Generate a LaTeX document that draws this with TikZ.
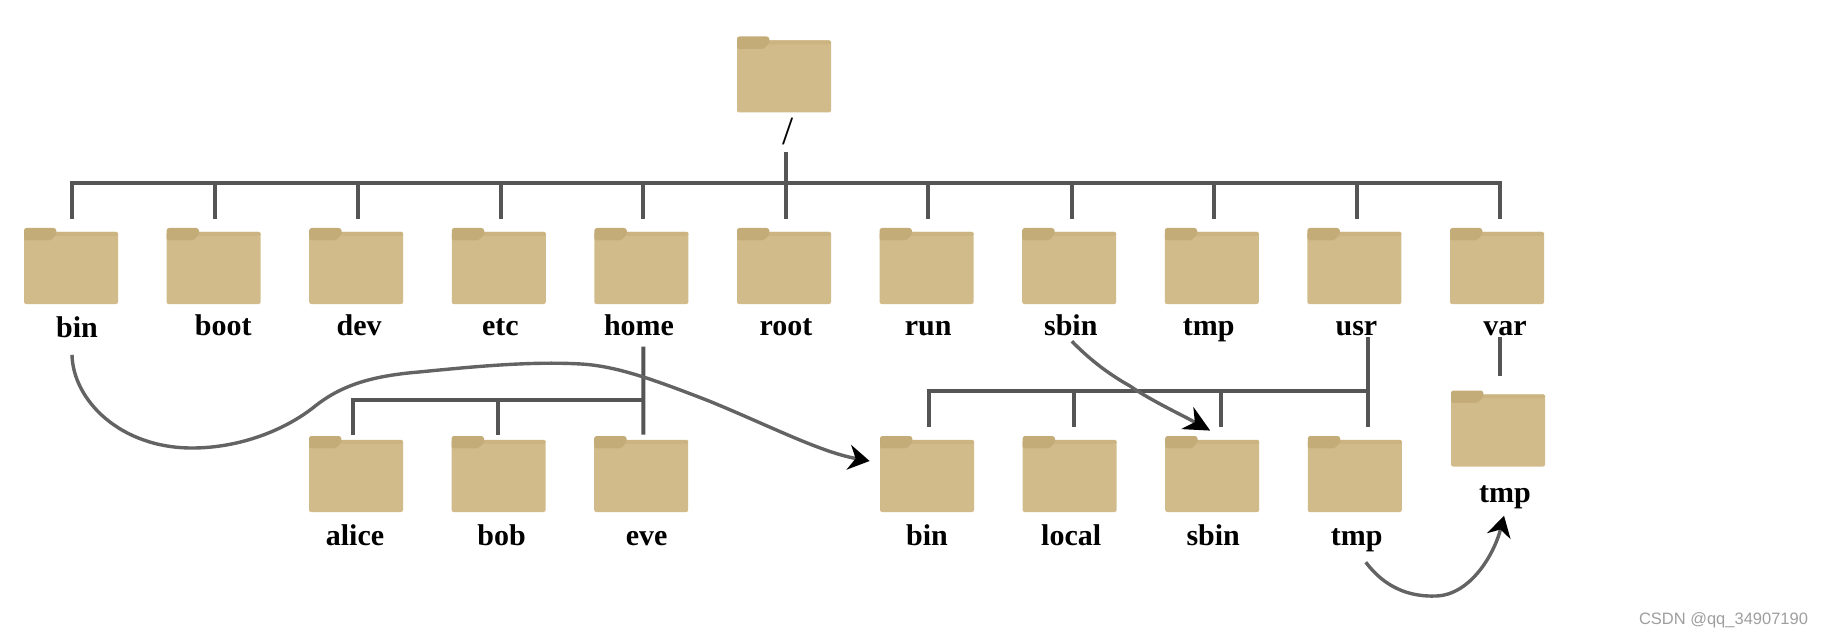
\documentclass[tikz,border=0pt]{standalone}
\usepackage{fontspec}
\setmainfont{Liberation Serif}
\setsansfont{Liberation Sans}
\usetikzlibrary{positioning, arrows.meta}
\definecolor{folderbody}{HTML}{D2BB8A}
\definecolor{folderstrip}{HTML}{CBB481}
\definecolor{foldertab}{HTML}{C4AC79}
\definecolor{linegray}{HTML}{555555}

\begin{document}
\begin{tikzpicture}[x=0.5pt, y=-0.5pt]
        \tikzset{
            node distance=71.3pt, % gap between two folders of a row
            folder/.style={rectangle, inner sep=0pt, minimum width=47pt, minimum height=38pt,
                path picture={
                    % body, strip along its top, then the darker tab
                    \fill[folderbody, rounded corners=1pt] (path picture bounding box.south west) -- ++(0pt,36pt) -- ++(47pt,0pt) -- ++(0pt,-36pt) -- cycle;
                    \fill[folderstrip, rounded corners=0.8pt] (path picture bounding box.north west) ++(15pt,-1.9pt) -- ++(32pt,0pt) -- ++(0pt,-2pt) -- ++(-32pt,0pt) -- cycle;
                    \fill[foldertab, rounded corners=1.2pt] (path picture bounding box.north west) ++(0pt,-6.2pt) -- ++(0pt,6.2pt) -- ++(16pt,0pt) -- ++(0.4pt,-3pt) -- ++(-3pt,-3.2pt) -- cycle;
                }},
            dir_name/.style={font=\fontsize{15pt}{15pt}\selectfont\bfseries, inner sep=0pt, text height=10.5pt, text depth=3.3pt},
            branch/.style={draw=linegray, line width=2pt},
            link/.style={draw=linegray!92, line width=1.7pt},
            }
        \useasboundingbox (0,0) rectangle (1824,636);

        % folders
        \node[folder] (root_dir) at (784,74.5) {};
        \node[folder] (bin_dir) at (71,266) {};
        \node[folder, right of=bin_dir] (boot_dir) {};
        \node[folder, right of=boot_dir] (dev_dir) {};
        \node[folder, right of=dev_dir] (etc_dir) {};
        \node[folder, right of=etc_dir] (home_dir) {};
        \node[folder, right of=home_dir] (rootd_dir) {};
        \node[folder, right of=rootd_dir] (run_dir) {};
        \node[folder, right of=run_dir] (sbin_dir) {};
        \node[folder, right of=sbin_dir] (tmp_dir) {};
        \node[folder, right of=tmp_dir] (usr_dir) {};
        \node[folder, right of=usr_dir] (var_dir) {};
        \node[folder] (alice_dir) at (356,474) {};
        \node[folder, right of=alice_dir] (bob_dir) {};
        \node[folder, right of=bob_dir] (eve_dir) {};
        \node[folder] (ubin_dir) at (927,474) {};
        \node[folder, right of=ubin_dir] (local_dir) {};
        \node[folder, right of=local_dir] (usbin_dir) {};
        \node[folder, right of=usbin_dir] (utmp_dir) {};
        \node[folder] (vtmp_dir) at (1498,428.5) {};

        % names
        \node[font=\fontsize{20pt}{20pt}\selectfont] (root_name) at (788,132) {/};
        \node[dir_name, below of=bin_dir, node distance=32pt, xshift=3pt] (bin_name) {bin};
        \node[dir_name, below of=boot_dir, node distance=31pt, xshift=4.8pt] (boot_name) {boot};
        \node[dir_name, below of=dev_dir, node distance=31pt, xshift=1.5pt] (dev_name) {dev};
        \node[dir_name, below of=etc_dir, node distance=31pt, xshift=0.8pt] (etc_name) {etc};
        \node[dir_name, below of=home_dir, node distance=31pt, xshift=-1.2pt] (home_name) {home};
        \node[dir_name, below of=rootd_dir, node distance=31pt, xshift=1pt] (rootd_name) {root};
        \node[dir_name, below of=run_dir, node distance=31pt, xshift=0.8pt] (run_name) {run};
        \node[dir_name, below of=sbin_dir, node distance=31pt, xshift=0.8pt] (sbin_name) {sbin};
        \node[dir_name, below of=tmp_dir, node distance=31pt, xshift=-1.5pt] (tmp_name) {tmp};
        \node[dir_name, below of=usr_dir, node distance=31pt, xshift=1pt] (usr_name) {usr};
        \node[dir_name, below of=var_dir, node distance=31pt, xshift=4pt] (var_name) {var};
        \node[dir_name, below of=alice_dir, node distance=32pt, xshift=-0.5pt] (alice_name) {alice};
        \node[dir_name, below of=bob_dir, node distance=32pt, xshift=1.5pt] (bob_name) {bob};
        \node[dir_name, below of=eve_dir, node distance=32pt, xshift=2.7pt] (eve_name) {eve};
        \node[dir_name, below of=ubin_dir, node distance=32pt] (ubin_name) {bin};
        \node[dir_name, below of=local_dir, node distance=32pt, xshift=0.8pt] (local_name) {local};
        \node[dir_name, below of=usbin_dir, node distance=32pt, xshift=0.5pt] (usbin_name) {sbin};
        \node[dir_name, below of=utmp_dir, node distance=32pt, xshift=1pt] (utmp_name) {tmp};
        \node[dir_name, below of=vtmp_dir, node distance=33.5pt, xshift=3.5pt] (vtmp_name) {tmp};
        \node[font=\fontsize{8.25pt}{8.25pt}\selectfont\sffamily, text=black!38, inner sep=0pt] (mark_name) at (1723.5,620) {CSDN @qq\_34907190};

        % top level tree
        \coordinate (top_stub) at (786,152.4);
        \coordinate (top_bus) at (786,183);
        \draw[branch] (top_stub) -- ([xshift=1pt,yshift=4.25pt]rootd_dir.north);
        \draw[branch] ([xshift=0.25pt,yshift=4.25pt]bin_dir.north) |- (top_bus) -| ([xshift=1.5pt,yshift=4.25pt]var_dir.north);
        \draw[branch] ([xshift=0.7pt,yshift=4.25pt]boot_dir.north) -- ([xshift=0.7pt]boot_dir.north |- top_bus);
        \draw[branch] ([xshift=0.9pt,yshift=4.25pt]dev_dir.north) -- ([xshift=0.9pt]dev_dir.north |- top_bus);
        \draw[branch] ([xshift=1.1pt,yshift=4.25pt]etc_dir.north) -- ([xshift=1.1pt]etc_dir.north |- top_bus);
        \draw[branch] ([xshift=1pt,yshift=4.25pt]home_dir.north) -- ([xshift=1pt]home_dir.north |- top_bus);
        \draw[branch] ([xshift=0.85pt,yshift=4.25pt]run_dir.north) -- ([xshift=0.85pt]run_dir.north |- top_bus);
        \draw[branch] ([xshift=1.4pt,yshift=4.25pt]sbin_dir.north) -- ([xshift=1.4pt]sbin_dir.north |- top_bus);
        \draw[branch] ([xshift=1.1pt,yshift=4.25pt]tmp_dir.north) -- ([xshift=1.1pt]tmp_dir.north |- top_bus);
        \draw[branch] ([xshift=1.3pt,yshift=4.25pt]usr_dir.north) -- ([xshift=1.3pt]usr_dir.north |- top_bus);

        % home tree
        \coordinate (home_stub) at (643.4,346.7);
        \coordinate (home_bus) at (643.4,400.4);
        \draw[branch] (home_stub) -- ([xshift=1.1pt,yshift=0.5pt]eve_dir.north);
        \draw[branch] ([xshift=-1.75pt,yshift=0.5pt]alice_dir.north) |- (home_bus);
        \draw[branch] ([xshift=-0.1pt,yshift=0.5pt]bob_dir.north) -- ([xshift=-0.1pt]bob_dir.north |- home_bus);

        % usr tree
        \coordinate (usr_stub) at (1367.5,336.6);
        \coordinate (usr_bus) at (1367.5,391);
        \draw[branch] (usr_stub) -- ([xshift=6.35pt,yshift=4.2pt]utmp_dir.north);
        \draw[branch] ([xshift=1pt,yshift=4.2pt]ubin_dir.north) |- (usr_bus);
        \draw[branch] ([xshift=2.4pt,yshift=4.2pt]local_dir.north) -- ([xshift=2.4pt]local_dir.north |- usr_bus);
        \draw[branch] ([xshift=4.5pt,yshift=4.2pt]usbin_dir.north) -- ([xshift=4.5pt]usbin_dir.north |- usr_bus);

        % var tree
        \coordinate (var_stub) at (1500,337.4);
        \draw[branch] (var_stub) -- ([xshift=1pt,yshift=7pt]vtmp_dir.north);

        % links
        \draw[link, -{Stealth[length=10.5pt, width=12.5pt, color=black]}] ([xshift=-2.5pt,yshift=-5.3pt]bin_name.south) .. controls (73,400) and (120,448) .. (192,448) .. controls (240,448) and (285,430) .. (314,407) .. controls (340,386) and (370,376) .. (419,372) .. controls (470,367) and (530,361) .. (581,364) .. controls (615,366) and (650,378) .. (709,401) .. controls (770,426) and (820,452) .. ([xshift=-5pt,yshift=6.5pt]ubin_dir.west);
        \draw[link, -{Stealth[length=13pt, width=12.5pt, color=black]}] ([xshift=0.5pt,yshift=0.5pt]sbin_name.south) .. controls (1092,362) and (1112,376) .. (1130,386) .. controls (1150,400) and (1180,414) .. ([xshift=-1pt,yshift=2.5pt]usbin_dir.north);
        \draw[link, -{Stealth[length=10.5pt, width=12pt, color=black]}] ([xshift=4.5pt,yshift=-5pt]utmp_name.south) .. controls (1385,588) and (1410,597) .. (1436,596) .. controls (1470,595) and (1494,555) .. ([xshift=-0.5pt,yshift=-3pt]vtmp_name.south);
\end{tikzpicture}
\end{document}
